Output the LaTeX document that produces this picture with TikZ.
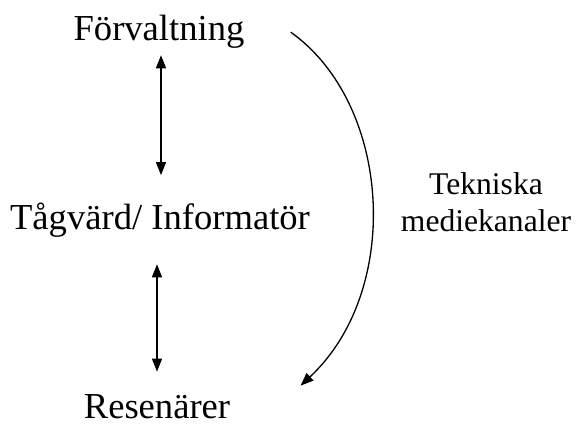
\documentclass[tikz,border=0pt]{standalone}
\usepackage{fontspec}
\setmainfont{Liberation Serif}
\usetikzlibrary{positioning,arrows.meta}

\begin{document}
\begin{tikzpicture}[
    x=0.5pt, y=-0.5pt,
    >={Triangle[length=6.5pt,width=5pt]},
    role/.style={inner sep=0pt, anchor=base, font=\fontsize{18.3}{22}\selectfont},
    chan/.style={inner sep=0pt, align=center, font=\fontsize{15.8}{18.5}\selectfont},
    arr/.style={line width=0.65pt, draw=black},
  ]
\useasboundingbox (0,0) rectangle (576,426);

% Roles, top to bottom
\node[role] (forv) at (159,41) {Förvaltning};
\node[role] (tag) at (160,230) {Tågvärd/ Informatör};
\node[role] (resen) at (157,418) {Resenärer};

% Channel label
\node[chan, anchor=base] (tekn) at (486,232) {Tekniska\\mediekanaler};

% Two-way links between the roles
\draw[arr, <->, shorten <=3pt, shorten >=14pt] ([xshift=1pt]forv.south) -- ([xshift=0.5pt]tag.north);
\draw[arr, <->, shorten <=13pt, shorten >=11pt] (resen.north |- tag.south) -- (resen.north);

% Technical channel, curved round the right side
\draw[arr, ->] ([shift={(46,17)}]forv.north east)
  .. controls +(101,72) and +(102,-95) .. ([shift={(70,-8)}]resen.north east);

\end{tikzpicture}
\end{document}
